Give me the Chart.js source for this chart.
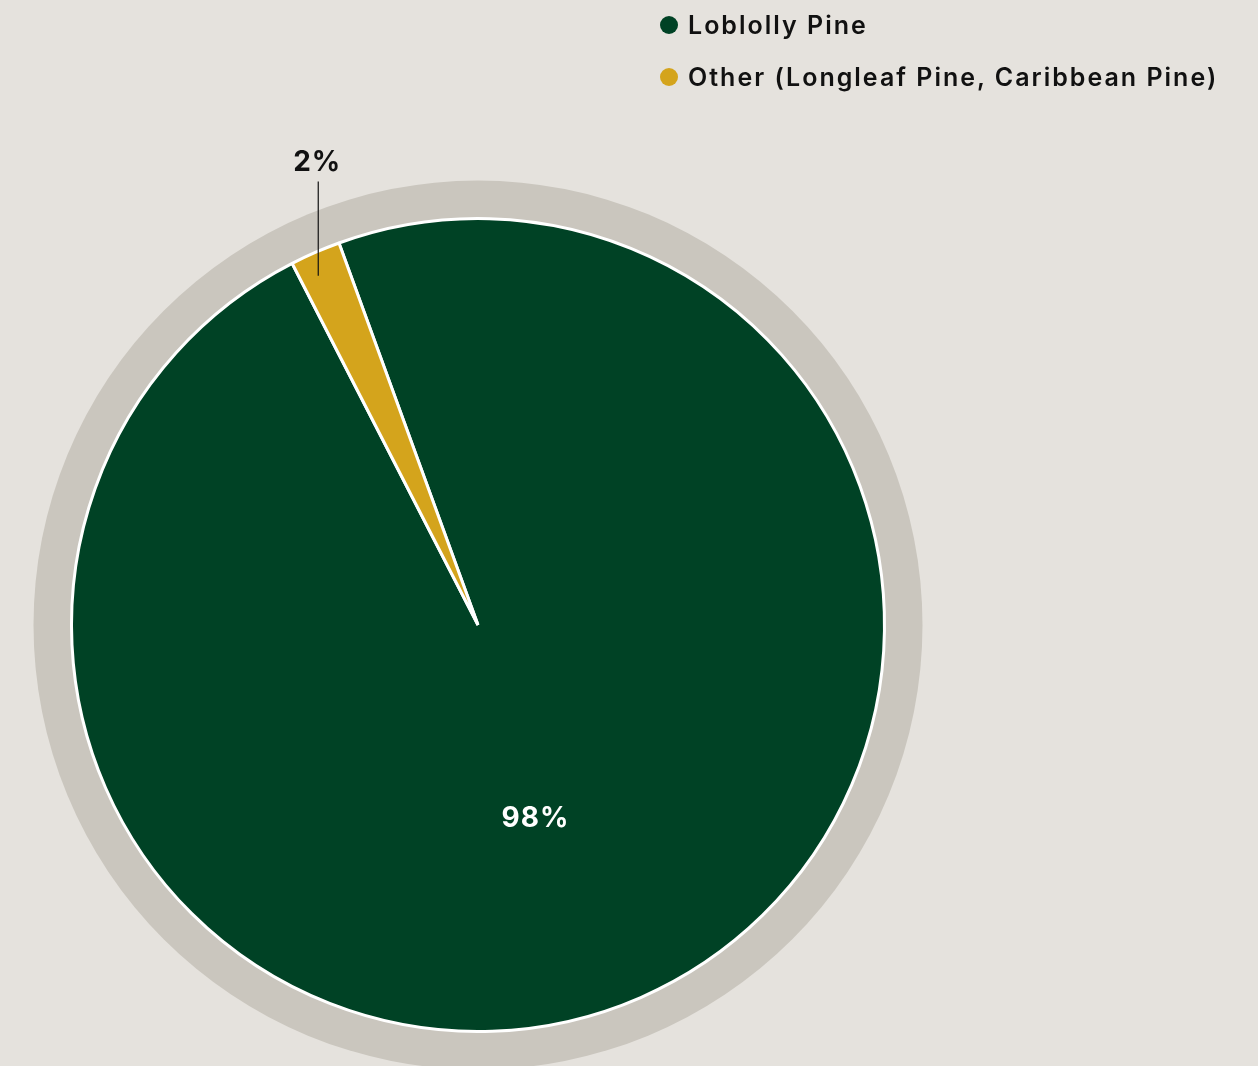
<!DOCTYPE html>
<html>
<head>
<meta charset="utf-8">
<script src="https://cdn.jsdelivr.net/npm/chart.js@4/dist/chart.umd.min.js"></script>
<style>
  html, body { margin: 0; padding: 0; background: #e5e2dd; }
  #wrap { position: relative; width: 1258px; height: 1066px; overflow: hidden; }
  #legend { position: absolute; left: 660px; top: 7px; font-family: Inter, "Noto Sans", sans-serif; font-weight: 600; font-size: 25px; letter-spacing: 2px; color: #111; }
  #legend .item { display: flex; align-items: center; height: 36px; margin-bottom: 16px; }
  #legend .dot { width: 18px; height: 18px; border-radius: 50%; margin-right: 10px; }
</style>
</head>
<body>
<div id="wrap">
  <canvas id="pie" width="1258" height="1066"></canvas>
  <div id="legend"></div>
</div>
<script>
// dados do gráfico
const categories = ['Loblolly Pine', 'Other (Longleaf Pine, Caribbean Pine)'];
const shares = [98, 2];
const sliceLabels = ['98%', '2%'];
const colors = ['#004225', '#d4a41c'];

// legenda em HTML
const legend = document.getElementById('legend');
categories.forEach((name, i) => {
    legend.innerHTML += `<div class="item"><span class="dot" style="background:${colors[i]}"></span><span>${name}</span></div>`;
});

// anel cinza atrás da pizza
const ringPlugin = {
    id: 'ring',
    beforeDatasetsDraw(chart) {
        const arc = chart.getDatasetMeta(0).data[0];
        const ctx = chart.ctx;
        ctx.save();
        ctx.fillStyle = '#cac6be';
        ctx.beginPath();
        ctx.arc(arc.x, arc.y, arc.outerRadius + 38, 0, Math.PI * 2);
        ctx.fill();
        ctx.restore();
    }
};

// rótulos de porcentagem
const labelPlugin = {
    id: 'sliceLabels',
    afterDatasetsDraw(chart) {
        const ctx = chart.ctx;
        const meta = chart.getDatasetMeta(0);
        ctx.save();
        ctx.font = 'bold 28px Inter, "Noto Sans", sans-serif';
        ctx.letterSpacing = '1px';
        ctx.textAlign = 'center';
        meta.data.forEach((arc, i) => {
            const mid = (arc.startAngle + arc.endAngle) / 2;
            const R = arc.outerRadius;
            if (shares[i] > 10) {
                // dentro da fatia
                const a = mid + 0.135;
                const x = arc.x + Math.cos(a) * R * 0.49;
                const y = arc.y + Math.sin(a) * R * 0.49;
                ctx.fillStyle = '#ffffff';
                ctx.textBaseline = 'middle';
                ctx.fillText(sliceLabels[i], x + 3, y + 2);
            } else {
                // fora, com linha guia
                const a = mid - 0.017;
                const px = arc.x + Math.cos(a) * R * 0.945;
                const py = arc.y + Math.sin(a) * R * 0.945;
                const top = arc.y - R - 37;
                ctx.strokeStyle = '#111';
                ctx.lineWidth = 1.2;
                ctx.beginPath();
                ctx.moveTo(px, py);
                ctx.lineTo(px, top);
                ctx.stroke();
                ctx.fillStyle = '#111';
                ctx.textBaseline = 'alphabetic';
                ctx.fillText(sliceLabels[i], px - 1, top - 11);
            }
        });
        ctx.restore();
    }
};

new Chart(document.getElementById('pie'), {
    type: 'pie',
    data: {
        labels: categories,
        datasets: [{
            data: shares,
            backgroundColor: colors,
            borderColor: '#ffffff',
            borderWidth: 3
        }]
    },
    options: {
        responsive: false,
        animation: false,
        rotation: -20,
        layout: { padding: { left: 70, right: 372, top: 217, bottom: 33 } },
        plugins: {
            legend: { display: false },
            tooltip: { enabled: false }
        }
    },
    plugins: [ringPlugin, labelPlugin]
});
</script>
</body>
</html>
